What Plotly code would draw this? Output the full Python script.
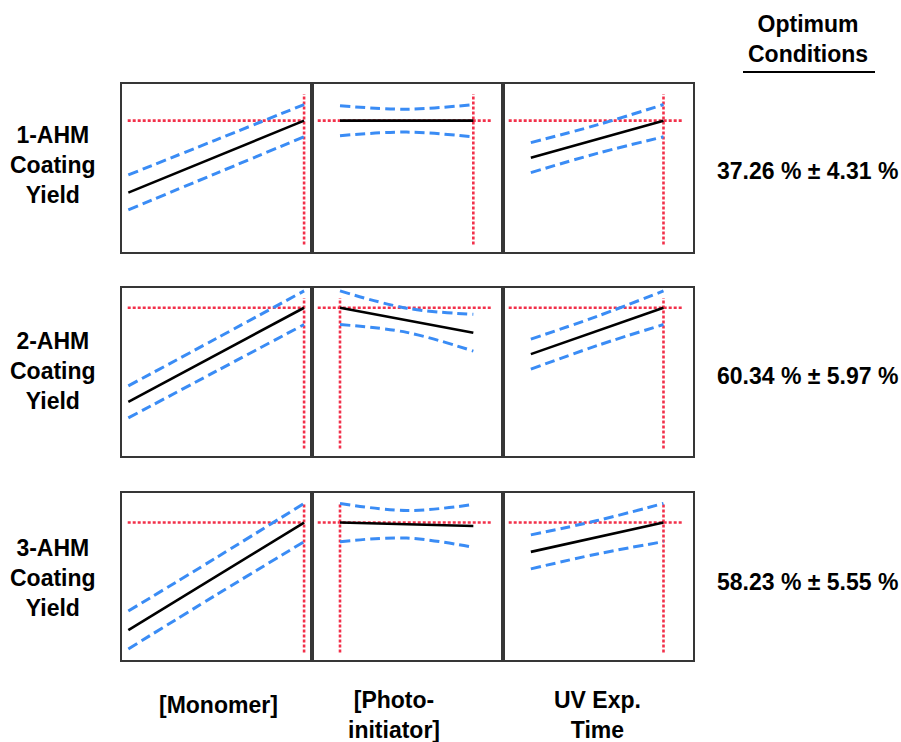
import plotly.graph_objects as go

# Coded factor settings (low, centre, high)
factor_levels = [-1, 0, 1]
factor_labels = ["[Monomer]", "[Photo-<br>initiator]", "UV Exp.<br>Time"]
response_labels = ["1-AHM<br>Coating<br>Yield", "2-AHM<br>Coating<br>Yield", "3-AHM<br>Coating<br>Yield"]

# Desirability optimum per response
optimum_yield = [37.26, 60.34, 58.23]
optimum_ci = [4.31, 5.97, 5.55]
optimum_setting = [[1, 1, 1], [1, -1, 1], [1, -1, 1]]

# Profiler traces: predicted yield (%) and confidence limits per factor
ahm1_pred = [[18.06, 27.66, 37.26], [37.26, 37.26, 37.26], [27.39, 32.33, 37.26]]
ahm1_upper = [[22.78, 32.15, 41.57], [41.26, 40.31, 41.57], [31.39, 36.13, 41.57]]
ahm1_lower = [[13.45, 23.20, 32.95], [33.26, 34.21, 32.95], [23.39, 28.53, 32.95]]

ahm2_pred = [[26.89, 43.62, 60.34], [60.34, 55.89, 51.44], [43.86, 52.10, 60.34]]
ahm2_upper = [[32.58, 49.40, 66.31], [66.31, 60.19, 57.99], [49.20, 57.30, 66.31]]
ahm2_lower = [[21.19, 37.80, 54.37], [54.37, 51.59, 44.93], [38.52, 46.90, 54.37]]

ahm3_pred = [[27.01, 42.62, 58.23], [58.23, 57.73, 57.24], [49.71, 53.97, 58.23]]
ahm3_upper = [[32.52, 48.02, 63.78], [63.78, 61.73, 63.47], [54.64, 58.80, 63.78]]
ahm3_lower = [[21.51, 37.22, 52.68], [52.68, 53.73, 51.01], [44.78, 49.10, 52.68]]

preds = [ahm1_pred, ahm2_pred, ahm3_pred]
uppers = [ahm1_upper, ahm2_upper, ahm3_upper]
lowers = [ahm1_lower, ahm2_lower, ahm3_lower]

# Layout geometry (pixels in a 901 x 742 canvas)
W, H = 901, 742
col_px = [(122, 312), (312, 503), (503, 693)]
row_px = [(84, 252), (288, 456), (493, 660)]
x_ranges = [[-1.072, 1.09], [-1.42, 1.445], [-1.42, 1.445]]
y_ranges = [[2.2, 47.05], [7.67, 67.35], [18.31, 66.81]]

RED = "#f2304a"
BLUE = "#3a8cf5"
FRAME = "#363636"
FONT = "Liberation Sans, Arial, Helvetica, sans-serif"

fig = go.Figure()
layout = {}
shapes = []
annotations = []

for r in range(3):
    for c in range(3):
        k = r * 3 + c + 1
        xa = "xaxis" if k == 1 else f"xaxis{k}"
        ya = "yaxis" if k == 1 else f"yaxis{k}"
        xr = "x" if k == 1 else f"x{k}"
        yr = "y" if k == 1 else f"y{k}"
        x0, x1 = col_px[c]
        top, bot = row_px[r]
        common = dict(showline=True, mirror=True, linecolor=FRAME, linewidth=2,
                      showgrid=False, zeroline=False, showticklabels=False,
                      ticks="", fixedrange=True)
        layout[xa] = dict(domain=[x0 / W, x1 / W], range=x_ranges[c], anchor=yr, **common)
        layout[ya] = dict(domain=[1 - bot / H, 1 - top / H], range=y_ranges[r], anchor=xr, **common)

        # confidence limits
        for band in (uppers[r][c], lowers[r][c]):
            fig.add_trace(go.Scatter(
                x=factor_levels, y=band, mode="lines", xaxis=xr, yaxis=yr,
                line=dict(color=BLUE, width=3, dash="10px,5px", shape="spline", smoothing=1.0),
                hoverinfo="skip", showlegend=False))
        # predicted response
        fig.add_trace(go.Scatter(
            x=factor_levels, y=preds[r][c], mode="lines", xaxis=xr, yaxis=yr,
            line=dict(color="black", width=2.6),
            hoverinfo="skip", showlegend=False))

        # optimum crosshair
        hx1 = 0.955 if c == 0 else 0.945
        shapes.append(dict(type="line", xref=f"{xr} domain", yref=yr,
                           x0=0.03, x1=hx1, y0=optimum_yield[r], y1=optimum_yield[r],
                           line=dict(color=RED, width=2.6, dash="3px,2px"), layer="below"))
        shapes.append(dict(type="line", xref=xr, yref=f"{yr} domain",
                           x0=optimum_setting[r][c], x1=optimum_setting[r][c], y0=0.045, y1=0.94,
                           line=dict(color=RED, width=2.6, dash="3px,2px"), layer="below"))

    # response label on the left
    mid = (row_px[r][0] + row_px[r][1]) / 2
    annotations.append(dict(text=f"<b>{response_labels[r]}</b>", xref="paper", yref="paper",
                            x=53 / W, y=1 - (mid - 3 + 2 * r) / H, xanchor="center", yanchor="middle",
                            showarrow=False, font=dict(size=23, family=FONT, color="black")))
    # optimum value on the right
    annotations.append(dict(text=f"<b>{optimum_yield[r]:.2f} % ± {optimum_ci[r]:.2f} %</b>",
                            xref="paper", yref="paper", x=807 / W, y=1 - (mid + 3 + r) / H,
                            xanchor="center", yanchor="middle", showarrow=False,
                            font=dict(size=23, family=FONT, color="black")))

# factor labels along the bottom
factor_x = [218, 394, 597]
for c in range(3):
    n_lines = factor_labels[c].count("<br>") + 1
    yc = 705 if n_lines == 1 else 715
    annotations.append(dict(text=f"<b>{factor_labels[c]}</b>", xref="paper", yref="paper",
                            x=factor_x[c] / W, y=1 - yc / H, xanchor="center", yanchor="middle",
                            showarrow=False, font=dict(size=23, family=FONT, color="black")))

# column header
annotations.append(dict(text="<b>Optimum<br>Conditions</b>", xref="paper", yref="paper",
                        x=808 / W, y=1 - 39 / H, xanchor="center", yanchor="middle",
                        showarrow=False, font=dict(size=23, family=FONT, color="black")))
shapes.append(dict(type="line", xref="paper", yref="paper", x0=743 / W, x1=875 / W,
                   y0=1 - 72 / H, y1=1 - 72 / H, line=dict(color="black", width=2)))

fig.update_layout(width=W, height=H, margin=dict(l=0, r=0, t=0, b=0),
                  paper_bgcolor="white", plot_bgcolor="white",
                  shapes=shapes, annotations=annotations, showlegend=False, **layout)

fig.write_html("out.html", include_plotlyjs=True, config={"displayModeBar": False})
